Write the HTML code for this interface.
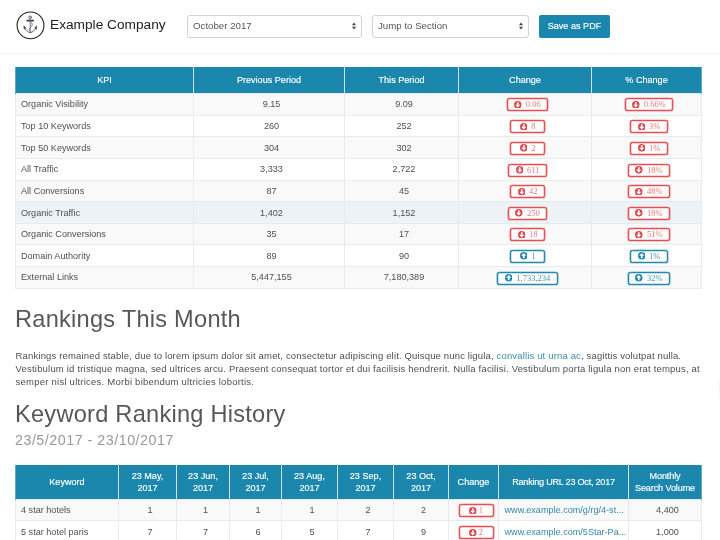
<!DOCTYPE html>
<html><head><meta charset="utf-8">
<style>
*{box-sizing:border-box;margin:0;padding:0}
html,body{width:720px;height:540px;overflow:hidden;background:#fff}
body{font-family:"Liberation Sans",sans-serif;color:#444;position:relative}
.hdr{position:absolute;left:0;top:0;width:720px;height:55px;border-bottom:2px solid #f8f8f8;background:#fff}
.logo{position:absolute;left:16px;top:11px;width:29px;height:29px}
.brand{position:absolute;left:50px;top:15px;font-size:13.700px;color:#222;white-space:nowrap;line-height:20px}
.sel{position:absolute;top:15px;height:23px;border:1px solid #c9d6db;border-radius:3px;background:#fff;font-size:9.700px;color:#555;line-height:19.800px;padding-left:5px}
.sel svg{position:absolute;right:5px;top:6px}
.btn{position:absolute;left:539px;top:15px;width:71px;height:23px;background:#1b87ad;border-radius:2px;color:#fff;font-size:9.100px;line-height:23px;text-align:center;-webkit-text-stroke:0.150px #fff}
table{border-collapse:collapse;position:absolute;table-layout:fixed;font-size:9.100px;color:#505050}
th{background:#1b87ad;color:#fff;font-weight:normal;text-align:center;border-left:1px solid #cfe3ec;border-right:1px solid #cfe3ec;-webkit-text-stroke:0.150px #fff}
td{text-align:center;border:1px solid #e7ebee;white-space:nowrap;overflow:hidden;padding-left:5px}
th:first-child{border-left-color:#5fa9c4}
th:last-child{border-right-color:#5fa9c4}
td:first-child{text-align:left;padding-left:5px}
td.l{text-align:left;padding-left:5.500px}
tr.o td{background:#f9f9f9}
tr.h td{background:#edf2f6}
#t1{left:15px;top:67px;width:686px}
#t1 th{height:26px;padding-top:1px}
#t1 td{height:21.600px}
#t1 tr:nth-child(2) td{height:22.400px}
.b{display:inline-block;height:13px;min-width:35px;border:1px solid #e74d52;box-shadow:0 0 0 0.350px #e74d52,inset 0 0 0 0.250px #e74d52;border-radius:2.500px;background:#fff;color:#ea7679;font-family:"Liberation Serif",serif;font-size:8.500px;line-height:11px;padding:0 6.600px;vertical-align:middle;white-space:nowrap;text-align:center;position:relative;top:0.700px}
.b.u{border-color:#2388ab;box-shadow:0 0 0 0.350px #2388ab,inset 0 0 0 0.250px #2388ab;color:#4a96b4}
.b svg{vertical-align:-1px;margin-right:4px}
h1{position:absolute;left:15px;font-weight:normal;font-size:23.600px;letter-spacing:0.250px;color:#55585c;white-space:nowrap;line-height:28px}
.sub{position:absolute;left:15px;top:431.800px;font-size:14.300px;letter-spacing:0.500px;color:#999;line-height:16px;white-space:nowrap}
p{position:absolute;left:15.600px;top:348.600px;width:705px;font-size:9.500px;letter-spacing:0.170px;line-height:13.150px;color:#4f4f4f;white-space:nowrap}
p a{color:#3a8fae;text-decoration:none}
#t2{left:15px;top:465px;width:686px}
#t2 th{height:34px;line-height:11.700px;padding-top:2px}
#t2 td{height:21.900px}
#t2 .b svg{margin-right:2px}
#t2 a{color:#3787ad;text-decoration:none}
</style></head><body>
<div class="hdr">
<svg class="logo" viewBox="0 0 29 29"><circle cx="14.500" cy="14.400" r="13.400" fill="#fff" stroke="#222" stroke-width="1.100"/>
<g fill="none" stroke="#4a5058" stroke-linecap="round"><circle cx="14.100" cy="6.300" r="1.300" stroke-width="0.900"/><path d="M11.200 9.600h6" stroke-width="1.700" stroke="#333a44"/><path d="M14.200 8V21.500" stroke-width="0.900" stroke="#69707a"/><path d="M8.400 16.300C9.500 19.300 11.800 20.800 14.300 21.800C16.800 20.800 19.100 19.300 20.200 16.300" stroke-width="0.900"/><path d="M7.900 15.300l.2 2.900 1.600-1.100zM20.700 15.300l-.2 2.900-1.600-1.100z" stroke-width="0.700" fill="#4a5058"/><path d="M14.600 10.800c2.200 1.700 2.200 3.700-.2 5.700c-1.900 1.500-1.300 3.200 .4 3.800" stroke-width="0.800" stroke="#5a616b"/></g></svg>
<div class="brand">Example Company</div>
<div class="sel" style="left:187px;width:175px"><span>October 2017</span><svg width="4" height="8" viewBox="0 0 5 9"><path d="M2.500 0L5 3.500H0zM2.500 9L5 5.500H0z" fill="#444"/></svg></div>
<div class="sel" style="left:372px;width:157px"><span>Jump to Section</span><svg width="4" height="8" viewBox="0 0 5 9"><path d="M2.500 0L5 3.500H0zM2.500 9L5 5.500H0z" fill="#444"/></svg></div>
<div class="btn">Save as PDF</div>
</div>
<table id="t1">
<colgroup><col style="width:178px"><col style="width:151px"><col style="width:114px"><col style="width:133px"><col style="width:110px"></colgroup>
<tr><th>KPI</th><th>Previous Period</th><th>This Period</th><th>Change</th><th>% Change</th></tr>
<tr class="o"><td>Organic Visibility</td><td>9.15</td><td>9.09</td><td><span class="b d"><svg width="7.500" height="7.500" viewBox="0 0 8 8"><circle cx="4" cy="4" r="4" fill="#e04246"/><path d="M4 6.900L1.200 3.900h1.900V1.300h1.800V3.900h1.900z" fill="#fff"/></svg>0.06</span></td><td><span class="b d"><svg width="7.500" height="7.500" viewBox="0 0 8 8"><circle cx="4" cy="4" r="4" fill="#e04246"/><path d="M4 6.900L1.200 3.900h1.900V1.300h1.800V3.900h1.900z" fill="#fff"/></svg>0.66%</span></td></tr>
<tr class=""><td>Top 10 Keywords</td><td>260</td><td>252</td><td><span class="b d"><svg width="7.500" height="7.500" viewBox="0 0 8 8"><circle cx="4" cy="4" r="4" fill="#e04246"/><path d="M4 6.900L1.200 3.900h1.900V1.300h1.800V3.900h1.900z" fill="#fff"/></svg>8</span></td><td><span class="b d"><svg width="7.500" height="7.500" viewBox="0 0 8 8"><circle cx="4" cy="4" r="4" fill="#e04246"/><path d="M4 6.900L1.200 3.900h1.900V1.300h1.800V3.900h1.900z" fill="#fff"/></svg>3%</span></td></tr>
<tr class="o"><td>Top 50 Keywords</td><td>304</td><td>302</td><td><span class="b d"><svg width="7.500" height="7.500" viewBox="0 0 8 8"><circle cx="4" cy="4" r="4" fill="#e04246"/><path d="M4 6.900L1.200 3.900h1.900V1.300h1.800V3.900h1.900z" fill="#fff"/></svg>2</span></td><td><span class="b d"><svg width="7.500" height="7.500" viewBox="0 0 8 8"><circle cx="4" cy="4" r="4" fill="#e04246"/><path d="M4 6.900L1.200 3.900h1.900V1.300h1.800V3.900h1.900z" fill="#fff"/></svg>1%</span></td></tr>
<tr class=""><td>All Traffic</td><td>3,333</td><td>2,722</td><td><span class="b d"><svg width="7.500" height="7.500" viewBox="0 0 8 8"><circle cx="4" cy="4" r="4" fill="#e04246"/><path d="M4 6.900L1.200 3.900h1.900V1.300h1.800V3.900h1.900z" fill="#fff"/></svg>611</span></td><td><span class="b d"><svg width="7.500" height="7.500" viewBox="0 0 8 8"><circle cx="4" cy="4" r="4" fill="#e04246"/><path d="M4 6.900L1.200 3.900h1.900V1.300h1.800V3.900h1.900z" fill="#fff"/></svg>18%</span></td></tr>
<tr class="o"><td>All Conversions</td><td>87</td><td>45</td><td><span class="b d"><svg width="7.500" height="7.500" viewBox="0 0 8 8"><circle cx="4" cy="4" r="4" fill="#e04246"/><path d="M4 6.900L1.200 3.900h1.900V1.300h1.800V3.900h1.900z" fill="#fff"/></svg>42</span></td><td><span class="b d"><svg width="7.500" height="7.500" viewBox="0 0 8 8"><circle cx="4" cy="4" r="4" fill="#e04246"/><path d="M4 6.900L1.200 3.900h1.900V1.300h1.800V3.900h1.900z" fill="#fff"/></svg>48%</span></td></tr>
<tr class="h"><td>Organic Traffic</td><td>1,402</td><td>1,152</td><td><span class="b d"><svg width="7.500" height="7.500" viewBox="0 0 8 8"><circle cx="4" cy="4" r="4" fill="#e04246"/><path d="M4 6.900L1.200 3.900h1.900V1.300h1.800V3.900h1.900z" fill="#fff"/></svg>250</span></td><td><span class="b d"><svg width="7.500" height="7.500" viewBox="0 0 8 8"><circle cx="4" cy="4" r="4" fill="#e04246"/><path d="M4 6.900L1.200 3.900h1.900V1.300h1.800V3.900h1.900z" fill="#fff"/></svg>18%</span></td></tr>
<tr class="o"><td>Organic Conversions</td><td>35</td><td>17</td><td><span class="b d"><svg width="7.500" height="7.500" viewBox="0 0 8 8"><circle cx="4" cy="4" r="4" fill="#e04246"/><path d="M4 6.900L1.200 3.900h1.900V1.300h1.800V3.900h1.900z" fill="#fff"/></svg>18</span></td><td><span class="b d"><svg width="7.500" height="7.500" viewBox="0 0 8 8"><circle cx="4" cy="4" r="4" fill="#e04246"/><path d="M4 6.900L1.200 3.900h1.900V1.300h1.800V3.900h1.900z" fill="#fff"/></svg>51%</span></td></tr>
<tr class=""><td>Domain Authority</td><td>89</td><td>90</td><td><span class="b u"><svg width="7.500" height="7.500" viewBox="0 0 8 8"><circle cx="4" cy="4" r="4" fill="#1b87ad"/><path d="M4 1.100L1.200 4.100h1.900v2.600h1.800V4.100h1.900z" fill="#fff"/></svg>1</span></td><td><span class="b u"><svg width="7.500" height="7.500" viewBox="0 0 8 8"><circle cx="4" cy="4" r="4" fill="#1b87ad"/><path d="M4 1.100L1.200 4.100h1.900v2.600h1.800V4.100h1.900z" fill="#fff"/></svg>1%</span></td></tr>
<tr class="o"><td>External Links</td><td>5,447,155</td><td>7,180,389</td><td><span class="b u"><svg width="7.500" height="7.500" viewBox="0 0 8 8"><circle cx="4" cy="4" r="4" fill="#1b87ad"/><path d="M4 1.100L1.200 4.100h1.900v2.600h1.800V4.100h1.900z" fill="#fff"/></svg>1,733,234</span></td><td><span class="b u"><svg width="7.500" height="7.500" viewBox="0 0 8 8"><circle cx="4" cy="4" r="4" fill="#1b87ad"/><path d="M4 1.100L1.200 4.100h1.900v2.600h1.800V4.100h1.900z" fill="#fff"/></svg>32%</span></td></tr>
</table>
<h1 style="top:305px">Rankings This Month</h1>
<p><span style="letter-spacing:0.156px">Rankings remained stable, due to lorem ipsum dolor sit amet, consectetur adipiscing elit. Quisque nunc ligula, <a>convallis ut urna ac</a>, sagittis volutpat nulla.</span><br><span style="letter-spacing:0.191px">Vestibulum id tristique magna, sed ultrices arcu. Praesent consequat tortor et dui facilisis hendrerit. Nulla facilisi. Vestibulum porta ligula non erat tempus, at</span><br><span style="letter-spacing:0.234px">semper nisl ultrices. Morbi bibendum ultricies lobortis.</span></p>
<h1 style="top:400.200px">Keyword Ranking History</h1>
<div class="sub">23/5/2017 - 23/10/2017</div>
<table id="t2">
<colgroup><col style="width:103px"><col style="width:58px"><col style="width:53px"><col style="width:52px"><col style="width:56px"><col style="width:56px"><col style="width:55px"><col style="width:50px"><col style="width:130px"><col style="width:73px"></colgroup>
<tr><th>Keyword</th><th>23 May,<br>2017</th><th>23 Jun,<br>2017</th><th>23 Jul,<br>2017</th><th>23 Aug,<br>2017</th><th>23 Sep,<br>2017</th><th>23 Oct,<br>2017</th><th>Change</th><th style="letter-spacing:-0.240px">Ranking URL 23 Oct, 2017</th><th style="letter-spacing:-0.120px">Monthly<br>Search Volume</th></tr>
<tr class="o"><td>4 star hotels</td><td>1</td><td>1</td><td>1</td><td>1</td><td>2</td><td>2</td><td><span class="b d"><svg width="7.500" height="7.500" viewBox="0 0 8 8"><circle cx="4" cy="4" r="4" fill="#e04246"/><path d="M4 6.900L1.200 3.900h1.900V1.300h1.800V3.900h1.900z" fill="#fff"/></svg>1</span></td><td class="l"><a>www.example.com/g/rg/4-st...</a></td><td>4,400</td></tr>
<tr class=""><td>5 star hotel paris</td><td>7</td><td>7</td><td>6</td><td>5</td><td>7</td><td>9</td><td><span class="b d"><svg width="7.500" height="7.500" viewBox="0 0 8 8"><circle cx="4" cy="4" r="4" fill="#e04246"/><path d="M4 6.900L1.200 3.900h1.900V1.300h1.800V3.900h1.900z" fill="#fff"/></svg>2</span></td><td class="l"><a>www.example.com/5Star-Pa...</a></td><td>1,000</td></tr>
</table>
<div style="position:absolute;left:718.500px;top:381px;width:2px;height:13px;background:#f4f4f4"></div>
</body></html>
